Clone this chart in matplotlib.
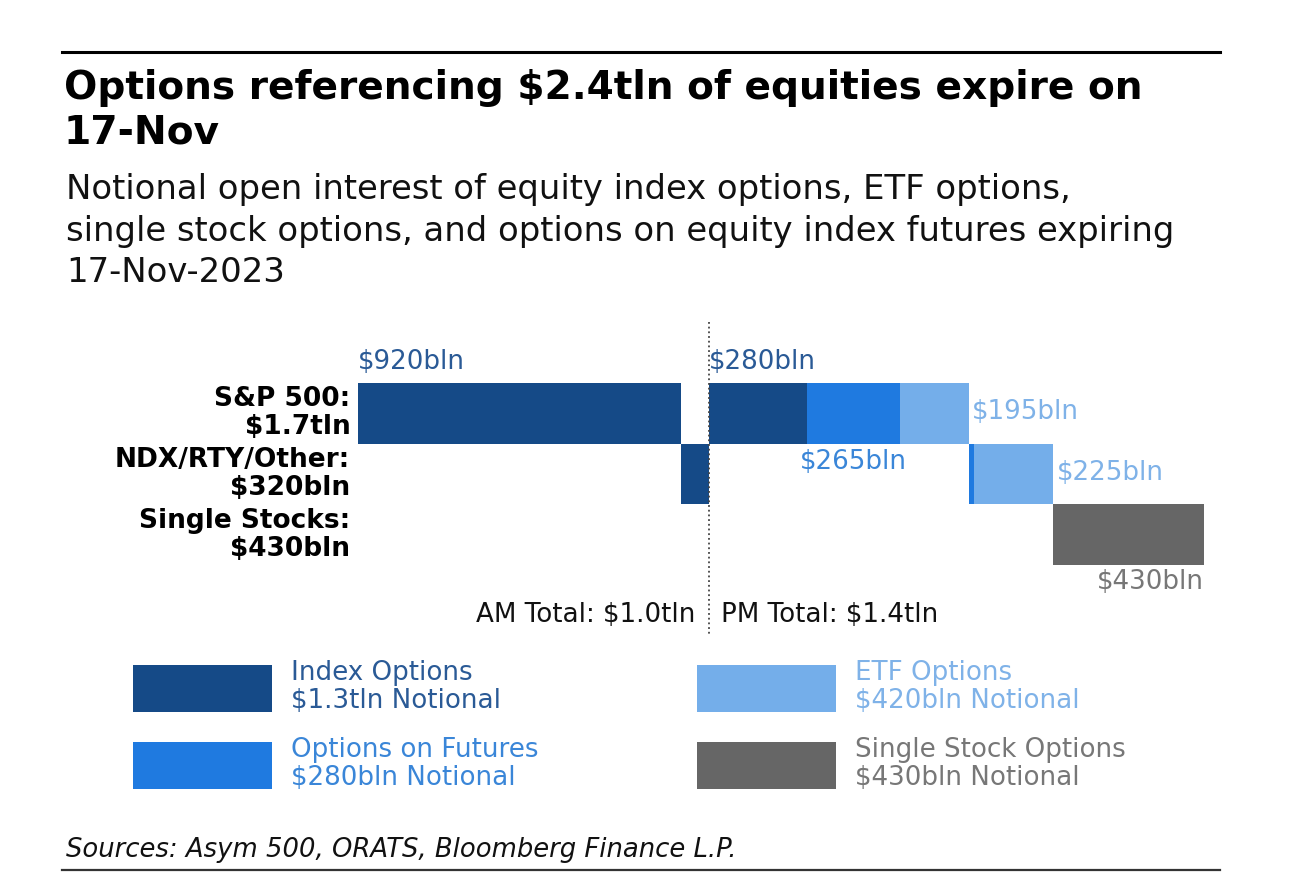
import matplotlib
matplotlib.use("Agg")
import matplotlib.pyplot as plt
from matplotlib.patches import Rectangle
from matplotlib.lines import Line2D

W, H = 1290, 890

# ---------------- data ----------------
row_labels = ["S&P 500:\n$1.7tln", "NDX/RTY/Other:\n$320bln", "Single Stocks:\n$430bln"]
seg_rows = [0, 1, 0, 0, 0, 1, 1, 2]
seg_cats = ["index", "index", "index", "futures", "etf", "futures", "etf", "single"]
seg_values = [920, 80, 280, 265, 195, 15, 225, 430]
seg_label_pos = ["above", None, "above", "below", "right", None, "right", "below_right"]
am_total_value = 1000
am_label = "AM Total: $1.0tln"
pm_label = "PM Total: $1.4tln"

legend_cats = ["index", "futures", "etf", "single"]
legend_names = ["Index Options", "Options on Futures", "ETF Options", "Single Stock Options"]
legend_notional = ["$1.3tln Notional", "$280bln Notional", "$420bln Notional", "$430bln Notional"]

colors = {"index": "#154a87", "futures": "#1f7ae0", "etf": "#74aeea", "single": "#666666"}
text_colors = {"index": "#2a5a96", "futures": "#3a86d8", "etf": "#7fb2e8", "single": "#777777"}

title_lines = ["Options referencing $2.4tln of equities expire on", "17-Nov"]
subtitle_lines = ["Notional open interest of equity index options, ETF options,",
                  "single stock options, and options on equity index futures expiring",
                  "17-Nov-2023"]
source = "Sources: Asym 500, ORATS, Bloomberg Finance L.P."

# ---------------- figure ----------------
fig = plt.figure(figsize=(W / 100, H / 100), dpi=100)
fig.patch.set_facecolor("white")

def fx(x):
    return x / W

def fy(y):
    return 1 - y / H

# rules
fig.add_artist(Line2D([fx(62), fx(1220)], [fy(52), fy(52)], color="black", lw=2.2))
fig.add_artist(Line2D([fx(62), fx(1220)], [fy(870), fy(870)], color="#333333", lw=1.6))

for i, t in enumerate(title_lines):
    fig.text(fx(64), fy(88 + 45 * i), t, ha="left", va="center", fontsize=28.2,
             fontweight="bold", color="black")
for i, t in enumerate(subtitle_lines):
    fig.text(fx(66), fy(190 + 41.5 * i), t, ha="left", va="center", fontsize=24.4,
             color="#111111")
fig.text(fx(66), fy(850), source, ha="left", va="center", fontsize=18.6,
         style="italic", color="#111111")

# ---------------- chart ----------------
total = sum(seg_values)
ax_l, ax_r, ax_t, ax_b = 358, 1204, 383, 565
ax = fig.add_axes([fx(ax_l), fy(ax_b), fx(ax_r - ax_l), (ax_b - ax_t) / H])
ax.set_xlim(0, total)
ax.set_ylim(3, 0)
ax.axis("off")

FS = 18.8
left = 0
for r, c, v, lp in zip(seg_rows, seg_cats, seg_values, seg_label_pos):
    ax.barh(r + 0.5, v, left=left, height=1.0, color=colors[c], edgecolor="none")
    lab = f"${v}bln"
    tc = text_colors[c]
    if lp == "above":
        ax.text(left, r - 0.35, lab, ha="left", va="center", fontsize=FS, color=tc)
    elif lp == "right":
        ax.text(left + v + 10, r + 0.48, lab, ha="left", va="center", fontsize=FS, color=tc)
    elif lp == "below":
        ax.text(left + v / 2, r + 1.30, lab, ha="center", va="center", fontsize=FS, color=tc)
    elif lp == "below_right":
        ax.text(left + v, r + 1.28, lab, ha="right", va="center", fontsize=FS, color=tc)
    left += v

for i, lab in enumerate(row_labels):
    ax.text(-22, i + 0.5, lab, ha="right", va="center", fontsize=19, fontweight="bold",
            color="black", linespacing=1.1)

# AM/PM divider
ax.plot([am_total_value, am_total_value], [-1.0, 4.15], ls=(0, (1, 1.6)), color="#444444",
        lw=1.3, clip_on=False)
ax.text(am_total_value - 38, 3.82, am_label, ha="right", va="center", fontsize=FS, color="#111111")
ax.text(am_total_value + 35, 3.82, pm_label, ha="left", va="center", fontsize=FS, color="#111111")

# ---------------- legend ----------------
leg_boxes = [(133, 665), (133, 742), (697, 665), (697, 742)]
for (bx, by), c, n1, n2 in zip(leg_boxes, legend_cats, legend_names, legend_notional):
    fig.add_artist(Rectangle((fx(bx), fy(by + 47)), fx(139), 47 / H, transform=fig.transFigure,
                             facecolor=colors[c], edgecolor="none"))
    fig.text(fx(bx + 158), fy(by + 22), n1 + "\n" + n2, ha="left", va="center", fontsize=18.8,
             color=text_colors[c], linespacing=1.12)

fig.savefig("out.png", dpi=100, facecolor="white")
